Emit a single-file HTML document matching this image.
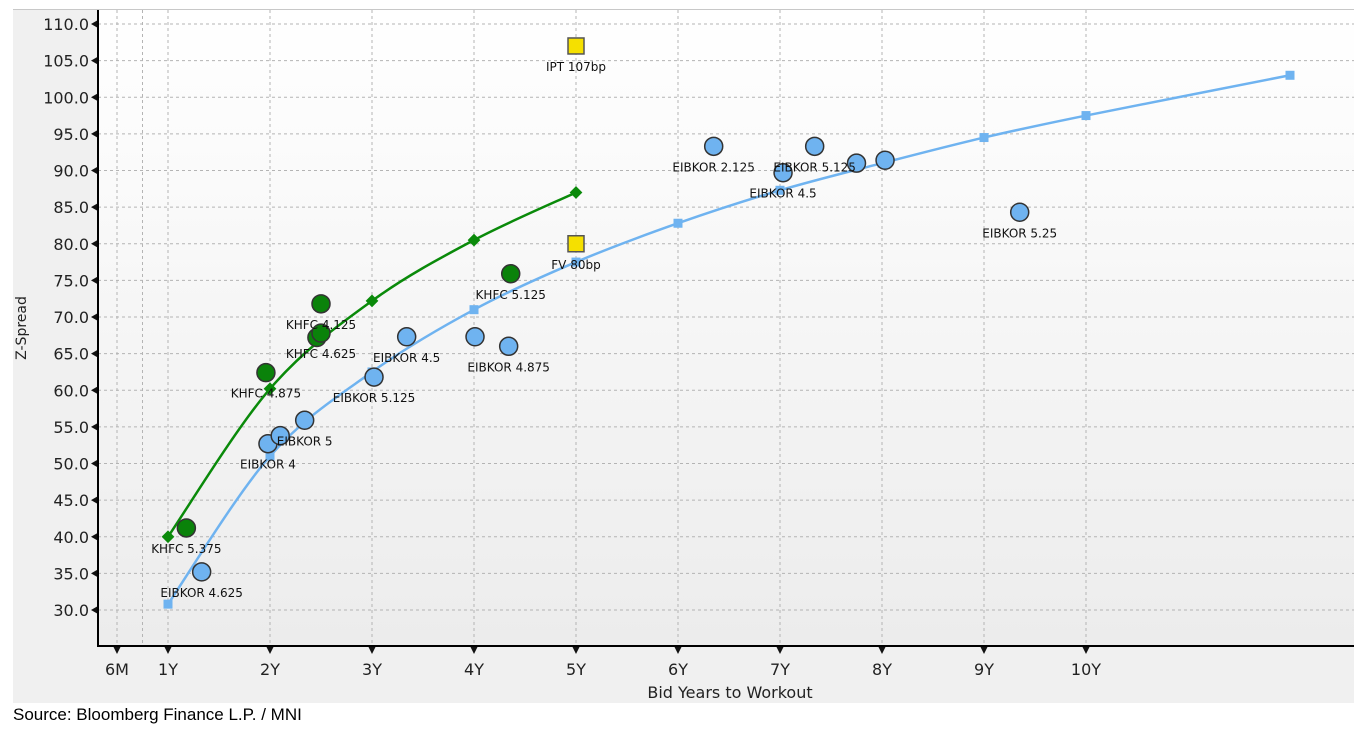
<!DOCTYPE html>
<html><head><meta charset="utf-8">
<style>
html,body{margin:0;padding:0;background:#fff;}
body{width:1354px;height:733px;overflow:hidden;position:relative;font-family:"Liberation Sans",sans-serif;}
#src{position:absolute;left:13px;top:705px;font-size:17px;color:#000;}
</style></head>
<body>
<svg id="chart" width="1354" height="705" style="position:absolute;left:0;top:0">
<defs>
<linearGradient id="pg" x1="0" y1="0" x2="0" y2="1">
<stop offset="0" stop-color="#ffffff"/><stop offset="1" stop-color="#ececec"/>
</linearGradient>
</defs>
<rect x="13" y="9" width="1341" height="694" fill="#f0f0f0"/>
<line x1="13" y1="9.5" x2="1354" y2="9.5" stroke="#c8c8c8"/>
<rect x="98" y="10" width="1256" height="636" fill="url(#pg)"/>
<g id="grid"></g>
<g id="lines"></g>
<g id="pts"></g>
<g id="labels" font-family="'DejaVu Sans','Liberation Sans',sans-serif" font-size="12" fill="#111" text-anchor="middle"></g>
<g id="axes"></g>
<text x="26" y="328" font-size="14" fill="#222" text-anchor="middle" transform="rotate(-90 26 328)" font-family="'DejaVu Sans','Liberation Sans',sans-serif">Z-Spread</text>
<text x="730" y="698" font-size="16" fill="#222" text-anchor="middle" font-family="'DejaVu Sans','Liberation Sans',sans-serif">Bid Years to Workout</text>
</svg>
<div id="src">Source: Bloomberg Finance L.P. / MNI</div>
<script>
const yTicks=[30,35,40,45,50,55,60,65,70,75,80,85,90,95,100,105,110];
const xTickVals=[0.5,1,2,3,4,5,6,7,8,9,10];
const xTickLabels=["6M","1Y","2Y","3Y","4Y","5Y","6Y","7Y","8Y","9Y","10Y"];
const khfcCurveT=[1,2,3,4,5];
const khfcCurveV=[40,60.2,72.2,80.5,87];
const eibCurveT=[1,2,3,4,5,6,7,8,9,10,12];
const eibCurveV=[30.8,51,62.5,71,77.5,82.8,87.3,91,94.5,97.5,103];
const khfcT=[1.18,1.96,2.5,2.46,2.5,4.36];
const khfcV=[41.2,62.4,71.8,67.2,67.8,75.9];
const khfcLabels=["KHFC 5.375","KHFC 4.875","KHFC 4.125","","KHFC 4.625","KHFC 5.125"];
const eibT=[1.33,1.98,2.1,2.34,3.02,3.34,4.01,4.34,6.35,7.34,7.03,7.75,8.03,9.35];
const eibV=[35.2,52.7,53.8,55.9,61.8,67.3,67.3,66.0,93.3,93.3,89.7,91.0,91.4,84.3];
const eibLabels=["EIBKOR 4.625","EIBKOR 4","","EIBKOR 5","EIBKOR 5.125","EIBKOR 4.5","","EIBKOR 4.875","EIBKOR 2.125","EIBKOR 5.125","EIBKOR 4.5","","","EIBKOR 5.25"];
const refT=[5,5];
const refV=[107,80];
const refLabels=["IPT 107bp","FV 80bp"];

const NS="http://www.w3.org/2000/svg";
const X=t=>168+(t-1)*102;
const Y=v=>610-(v-30)*7.325;
function mk(tag,attrs,parent){const e=document.createElementNS(NS,tag);for(const k in attrs)e.setAttribute(k,attrs[k]);parent.appendChild(e);return e;}
const grid=document.getElementById('grid'),axes=document.getElementById('axes'),lines=document.getElementById('lines'),pts=document.getElementById('pts'),labels=document.getElementById('labels');
yTicks.forEach(v=>{
  const g=mk('line',{x1:98,x2:1354,y1:Y(v),y2:Y(v),stroke:'#b4b4b4','stroke-dasharray':'3,3'},grid);
  
  
  const tk=mk('path',{d:`M91 ${Y(v)} L98 ${Y(v)-4} L98 ${Y(v)+4} z`,fill:'#111'},axes);
  
  
  const t=mk('text',{x:89,y:Y(v)+6,'font-size':16,'text-anchor':'end',fill:'#222','font-family':"'DejaVu Sans','Liberation Sans',sans-serif"},axes);
  t.textContent=v.toFixed(1);
  
  
});
[0.75].concat(xTickVals).forEach(t=>{
  const g=mk('line',{x1:X(t),x2:X(t),y1:10,y2:646,stroke:'#b4b4b4','stroke-dasharray':'3,3'},grid);
  
  
});
xTickVals.forEach((t,i)=>{
  const tk=mk('path',{d:`M${X(t)} 654 L${X(t)-4} 646 L${X(t)+4} 646 z`,fill:'#111'},axes);
  
  
  const tx=mk('text',{x:X(t),y:675,'font-size':16,'text-anchor':'middle',fill:'#222','font-family':"'DejaVu Sans','Liberation Sans',sans-serif"},axes);
  tx.textContent=xTickLabels[i];
  
  
});
const ya=mk('line',{x1:98,x2:98,y1:10,y2:647,stroke:'#000','stroke-width':2},axes);


const xa=mk('line',{x1:97,x2:1354,y1:646,y2:646,stroke:'#000','stroke-width':2},axes);



function spline(P){
  let d=`M${P[0][0]} ${P[0][1]}`;
  for(let i=0;i<P.length-1;i++){
    const p0=P[i-1]||P[i],p1=P[i],p2=P[i+1],p3=P[i+2]||P[i+1];
    const c1=[p1[0]+(p2[0]-p0[0])/6,p1[1]+(p2[1]-p0[1])/6];
    const c2=[p2[0]-(p3[0]-p1[0])/6,p2[1]-(p3[1]-p1[1])/6];
    d+=` C${c1[0]} ${c1[1]} ${c2[0]} ${c2[1]} ${p2[0]} ${p2[1]}`;
  }
  return d;
}
function curve(T,V,color,name){
  const P=T.map((t,i)=>[X(t),Y(V[i])]);
  const p=mk('path',{d:spline(P),fill:'none',stroke:color,'stroke-width':2.5},lines);
  
  
  P.forEach(q=>{
    const m=mk('rect',{x:q[0]-4.5,y:q[1]-4.5,width:9,height:9,fill:color,transform:`rotate(${name==='khfc'?45:0} ${q[0]} ${q[1]})`},lines);
    
    
  });
}
curve(eibCurveT,eibCurveV,'#6fb3f0','eibkor');
curve(khfcCurveT,khfcCurveV,'#0a8a0a','khfc');
function points(T,V,L,fill,name){
  T.forEach((t,i)=>{
    const c=mk('circle',{cx:X(t),cy:Y(V[i]),r:9,fill:fill,stroke:'#333','stroke-width':1.5},pts);
    
    
    if(L[i]){
      const tx=mk('text',{x:X(t),y:Y(V[i])+25},labels);
      tx.textContent=L[i];
      
      
    }
  });
}
points(eibT,eibV,eibLabels,'#6fb3f0','eibkor');
points(khfcT,khfcV,khfcLabels,'#0a820a','khfc');
refT.forEach((t,i)=>{
  const r=mk('rect',{x:X(t)-8,y:Y(refV[i])-8,width:16,height:16,fill:'#f5e000',stroke:'#555','stroke-width':1.5},pts);
  
  
  const tx=mk('text',{x:X(t),y:Y(refV[i])+25},labels);
  tx.textContent=refLabels[i];
  
  
});
</script>
</body></html>
